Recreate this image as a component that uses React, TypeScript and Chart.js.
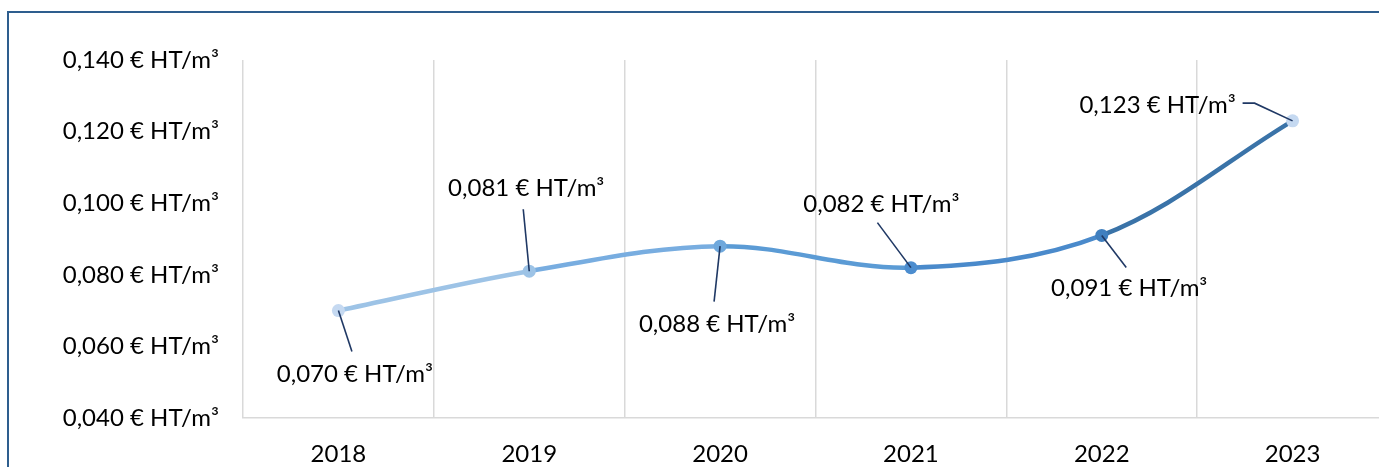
import React, { useEffect, useRef } from "react";
import { Chart, registerables } from "chart.js";

Chart.register(...registerables);

const years = ["2018", "2019", "2020", "2021", "2022", "2023"];
const prices = [0.07, 0.081, 0.088, 0.082, 0.091, 0.123];
const yMin = 0.04;
const yMax = 0.14;
const yStep = 0.02;

const segmentColors = ["#9dc3e6", "#78ade0", "#5b9bd5", "#4a8acb", "#3a73a8"];
const pointColors = ["#c5d9f1", "#9dc3e6", "#6fa8dc", "#4c8dcf", "#3f7fbf", "#c5d9f1"];

// label placement relative to each point (style only)
const labelOffsets = [
  { dx: 16.5, dy: 71, leader: [[13.5, 41]] },
  { dx: -3, dy: -75, leader: [[-6, -62]] },
  { dx: -3, dy: 85.5, leader: [[-6, 55.5]] },
  { dx: -29.5, dy: -56, leader: [[-33.5, -45]] },
  { dx: 27.5, dy: 61, leader: [[24.5, 32]] },
  { dx: -135, dy: -8.3, leader: [[-38, -17.7], [-50, -17.7]] },
];

const FONT = "Lato, 'Open Sans', sans-serif";
const FONT_SIZE = 24;

const fmt = (v: number) => v.toFixed(3).replace(".", ",") + " € HT/m³";

const labelPlugin = {
  id: "leaderLabels",
  afterDatasetsDraw(chart: any) {
    const ctx = chart.ctx;
    const meta = chart.getDatasetMeta(0);
    ctx.save();
    meta.data.forEach((pt: any, i: number) => {
      const o = labelOffsets[i];
      if (!o) return;
      ctx.beginPath();
      ctx.strokeStyle = "#1f3864";
      ctx.lineWidth = 1.6;
      ctx.moveTo(pt.x, pt.y);
      o.leader.forEach((p) => ctx.lineTo(pt.x + p[0], pt.y + p[1]));
      ctx.stroke();
      ctx.fillStyle = "#000000";
      ctx.font = `${FONT_SIZE}px ${FONT}`;
      ctx.textAlign = "center";
      ctx.textBaseline = "alphabetic";
      ctx.fillText(fmt(prices[i]), pt.x + o.dx, pt.y + o.dy);
    });
    ctx.restore();
  },
};

export default function App() {
  const ref = useRef<HTMLCanvasElement | null>(null);

  useEffect(() => {
    if (!ref.current) return;
    const chart = new Chart(ref.current, {
      type: "line",
      data: {
        labels: years,
        datasets: [
          {
            data: prices,
            borderWidth: 4.5,
            tension: 0.35,
            borderColor: segmentColors[0],
            segment: {
              borderColor: (c: any) => segmentColors[c.p0DataIndex],
            },
            pointBackgroundColor: pointColors,
            pointBorderWidth: 0,
            pointRadius: 6.5,
            fill: false,
          },
        ],
      },
      options: {
        animation: false,
        responsive: false,
        maintainAspectRatio: false,
        layout: { padding: { top: 60, right: 12, bottom: 0, left: 0 } },
        plugins: {
          legend: { display: false },
          tooltip: { enabled: false },
        },
        scales: {
          x: {
            offset: true,
            grid: {
              offset: true,
              color: "#d9d9d9",
              lineWidth: 1.5,
              drawTicks: false,
            },
            border: { color: "#d9d9d9", width: 1.5 },
            ticks: {
              color: "#000000",
              font: { family: FONT, size: FONT_SIZE },
              padding: 22,
              maxRotation: 0,
            },
            afterFit: (s: any) => {
              s.height = 49;
            },
          },
          y: {
            min: yMin,
            max: yMax,
            grid: { display: false, drawTicks: false },
            border: { display: false },
            ticks: {
              stepSize: yStep,
              color: "#000000",
              font: { family: FONT, size: FONT_SIZE },
              padding: 24,
              callback: (v: any) => fmt(Number(v)),
            },
            afterFit: (s: any) => {
              s.width = 243;
            },
          },
        },
      },
      plugins: [labelPlugin],
    });
    return () => chart.destroy();
  }, []);

  return (
    <div
      style={{
        position: "fixed",
        left: 0,
        top: 0,
        width: 1379,
        height: 467,
        overflow: "hidden",
        background: "#ffffff",
      }}
    >
      <div
        style={{
          position: "absolute",
          left: 7,
          top: 11,
          width: 1500,
          height: 600,
          border: "2px solid #2e5e8e",
          boxSizing: "border-box",
        }}
      />
      <canvas
        ref={ref}
        width={1400}
        height={467}
        style={{ position: "absolute", left: 0, top: 0, width: 1400, height: 467 }}
      />
    </div>
  );
}
